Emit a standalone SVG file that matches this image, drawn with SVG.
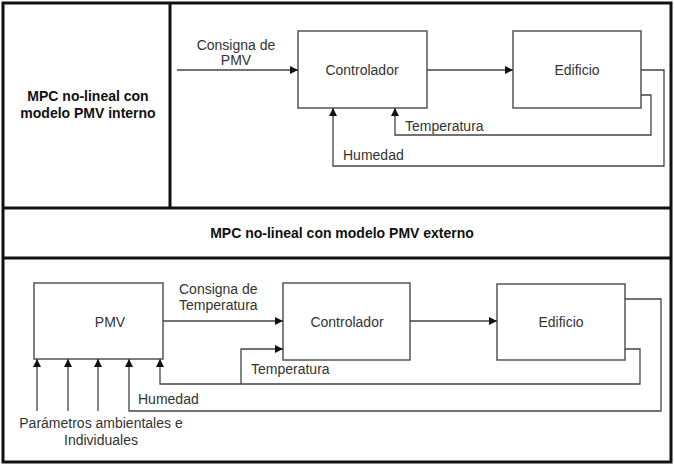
<svg xmlns="http://www.w3.org/2000/svg" width="674" height="466" viewBox="0 0 674 466">
<defs>
<marker id="ah" viewBox="0 0 10 10" refX="10" refY="5" markerWidth="8" markerHeight="8" markerUnits="userSpaceOnUse" orient="auto">
<path d="M0,0 L10,5 L0,10 z" fill="#111"/>
</marker>
</defs>
<style>
.frame{fill:none;stroke:#111;stroke-width:3}
.box{fill:#fff;stroke:#555;stroke-width:1.5}
.wire{fill:none;stroke:#444;stroke-width:1.3}
.arr{marker-end:url(#ah)}
text{font-family:"Liberation Sans",Arial,sans-serif;font-size:14px;fill:#333}
.c{text-anchor:middle}
.b{font-weight:bold;fill:#111}
</style>
<rect width="674" height="466" fill="#fff"/>
<g id="frame">
<rect class="frame" x="3" y="3" width="668" height="459"/>
<line class="frame" x1="3" y1="208" x2="671" y2="208"/>
<line class="frame" x1="3" y1="258" x2="671" y2="258"/>
<line class="frame" x1="170" y1="3" x2="170" y2="208"/>
</g>
<g id="title-internal">
<text class="c b" x="88" y="101">MPC no-lineal con</text>
<text class="c b" x="88" y="118">modelo PMV interno</text>
</g>
<g id="title-external">
<text class="c b" x="342" y="238">MPC no-lineal con modelo PMV externo</text>
</g>
<g id="ctrl1"><rect class="box" x="298" y="31" width="129" height="77"/><text class="c" x="362" y="75">Controlador</text></g>
<g id="edif1"><rect class="box" x="513" y="31" width="128" height="77"/><text class="c" x="577" y="75">Edificio</text></g>
<g id="pmv"><rect class="box" x="34" y="283" width="129" height="76"/><text class="c" x="110" y="327">PMV</text></g>
<g id="ctrl2"><rect class="box" x="283" y="283" width="127" height="77"/><text class="c" x="347" y="327">Controlador</text></g>
<g id="edif2"><rect class="box" x="497" y="284" width="128" height="76"/><text class="c" x="561" y="327">Edificio</text></g>
<g id="connectors">
<line class="wire arr" x1="177" y1="70" x2="298" y2="70"/>
<line class="wire arr" x1="427" y1="70" x2="513" y2="70"/>
<polyline class="wire arr" points="641,95 651,95 651,135 395,135 395,108"/>
<polyline class="wire arr" points="641,70 664,70 664,166 333,166 333,108"/>
<line class="wire arr" x1="163" y1="321" x2="283" y2="321"/>
<line class="wire arr" x1="410" y1="321" x2="497" y2="321"/>
<polyline class="wire arr" points="625,349 640,349 640,384 160,384 160,359"/>
<polyline class="wire arr" points="241,384 241,349 283,349"/>
<polyline class="wire arr" points="625,299 661,299 661,411 129,411 129,359"/>
<line class="wire arr" x1="37" y1="411" x2="37" y2="359"/>
<line class="wire arr" x1="68" y1="411" x2="68" y2="359"/>
<line class="wire arr" x1="98" y1="411" x2="98" y2="359"/>
</g>
<g id="labels">
<text class="c" x="236" y="50">Consigna de</text>
<text class="c" x="236" y="65">PMV</text>
<text x="405" y="131">Temperatura</text>
<text x="343" y="160">Humedad</text>
<text x="179" y="294">Consigna de</text>
<text x="179" y="310">Temperatura</text>
<text x="251" y="374">Temperatura</text>
<text x="138" y="404">Humedad</text>
<text class="c" x="101" y="428">Parámetros ambientales e</text>
<text class="c" x="101" y="445">Individuales</text>
</g>
</svg>
